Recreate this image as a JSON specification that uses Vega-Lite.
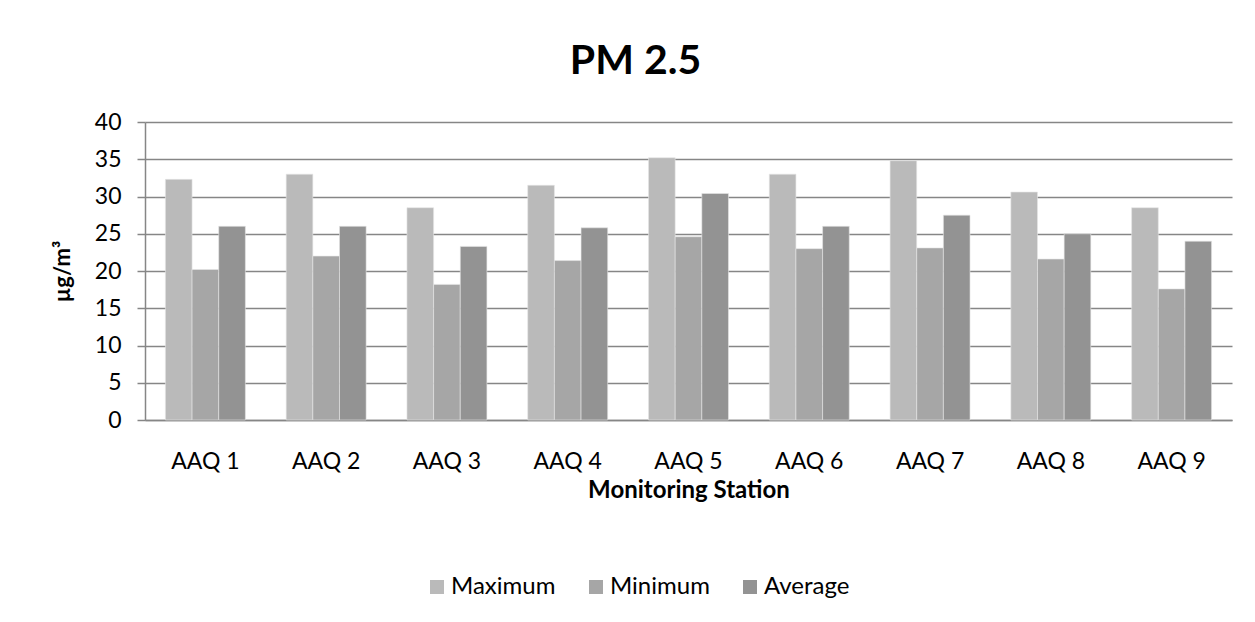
{
  "$schema": "https://vega.github.io/schema/vega-lite/v6.json",
  "autosize": {"type": "none"},
  "padding": {"left": 145, "top": 122, "right": 23, "bottom": 202},
  "width": 1087,
  "height": 298,
  "background": "white",
  "title": {
    "text": "PM 2.5",
    "font": "Lato",
    "fontSize": 41,
    "fontWeight": "bold",
    "color": "#000000",
    "anchor": "middle",
    "frame": "group",
    "dx": -53,
    "offset": 28
  },
  "data": {
    "values": [
      {"station": "AAQ 1", "stat": "Maximum", "value": 32.3},
      {"station": "AAQ 1", "stat": "Minimum", "value": 20.2},
      {"station": "AAQ 1", "stat": "Average", "value": 26.0},
      {"station": "AAQ 2", "stat": "Maximum", "value": 33.0},
      {"station": "AAQ 2", "stat": "Minimum", "value": 22.0},
      {"station": "AAQ 2", "stat": "Average", "value": 26.0},
      {"station": "AAQ 3", "stat": "Maximum", "value": 28.5},
      {"station": "AAQ 3", "stat": "Minimum", "value": 18.2},
      {"station": "AAQ 3", "stat": "Average", "value": 23.3},
      {"station": "AAQ 4", "stat": "Maximum", "value": 31.5},
      {"station": "AAQ 4", "stat": "Minimum", "value": 21.4},
      {"station": "AAQ 4", "stat": "Average", "value": 25.8},
      {"station": "AAQ 5", "stat": "Maximum", "value": 35.2},
      {"station": "AAQ 5", "stat": "Minimum", "value": 24.6},
      {"station": "AAQ 5", "stat": "Average", "value": 30.4},
      {"station": "AAQ 6", "stat": "Maximum", "value": 33.0},
      {"station": "AAQ 6", "stat": "Minimum", "value": 23.0},
      {"station": "AAQ 6", "stat": "Average", "value": 26.0},
      {"station": "AAQ 7", "stat": "Maximum", "value": 34.8},
      {"station": "AAQ 7", "stat": "Minimum", "value": 23.1},
      {"station": "AAQ 7", "stat": "Average", "value": 27.5},
      {"station": "AAQ 8", "stat": "Maximum", "value": 30.6},
      {"station": "AAQ 8", "stat": "Minimum", "value": 21.6},
      {"station": "AAQ 8", "stat": "Average", "value": 25.0},
      {"station": "AAQ 9", "stat": "Maximum", "value": 28.5},
      {"station": "AAQ 9", "stat": "Minimum", "value": 17.6},
      {"station": "AAQ 9", "stat": "Average", "value": 24.0}
    ]
  },
  "mark": {"type": "bar", "stroke": "#e6e6e6", "strokeWidth": 0.6},
  "encoding": {
    "x": {
      "field": "station",
      "type": "nominal",
      "sort": null,
      "scale": {"paddingInner": 0.338, "paddingOuter": 0.169},
      "axis": {
        "title": "Monitoring Station",
        "titleFont": "Lato",
        "titleFontSize": 24,
        "titleFontWeight": "bold",
        "titleColor": "#000000",
        "titlePadding": 5,
        "labelFont": "Lato",
        "labelFontSize": 23,
        "labelColor": "#000000",
        "labelAngle": 0,
        "labelPadding": 30,
        "ticks": false,
        "domainColor": "#868686",
        "domainWidth": 1.5,
        "grid": false
      }
    },
    "xOffset": {"field": "stat", "type": "nominal", "sort": ["Maximum", "Minimum", "Average"], "scale": {"paddingInner": 0, "paddingOuter": 0}},
    "y": {
      "field": "value",
      "type": "quantitative",
      "scale": {"domain": [0, 40], "nice": false},
      "axis": {
        "title": "µg/m³",
        "titleFont": "Lato",
        "titleFontSize": 22,
        "titleFontWeight": "bold",
        "titleColor": "#000000",
        "titleX": -83,
        "titleY": 149,
        "titleAngle": -90,
        "titleAlign": "center",
        "titleBaseline": "middle",
        "values": [0, 5, 10, 15, 20, 25, 30, 35, 40],
        "labelFont": "Lato",
        "labelFontSize": 23,
        "labelColor": "#000000",
        "labelPadding": 16,
        "tickSize": 8,
        "tickColor": "#868686",
        "tickWidth": 1.5,
        "domainColor": "#868686",
        "domainWidth": 1.5,
        "grid": true,
        "gridColor": "#868686",
        "gridWidth": 1.5
      }
    },
    "color": {
      "field": "stat",
      "type": "nominal",
      "sort": ["Maximum", "Minimum", "Average"],
      "scale": {"domain": ["Maximum", "Minimum", "Average"], "range": ["#BABABA", "#A6A6A6", "#939393"]},
      "legend": {
        "title": null,
        "orient": "none",
        "direction": "horizontal",
        "legendX": 280,
        "legendY": 453,
        "symbolType": "square",
        "symbolSize": 196,
        "symbolStrokeWidth": 0,
        "labelFont": "Lato",
        "labelFontSize": 24,
        "labelColor": "#000000",
        "labelOffset": 2,
        "columnPadding": 28
      }
    }
  },
  "config": {
    "view": {"stroke": null}
  }
}
